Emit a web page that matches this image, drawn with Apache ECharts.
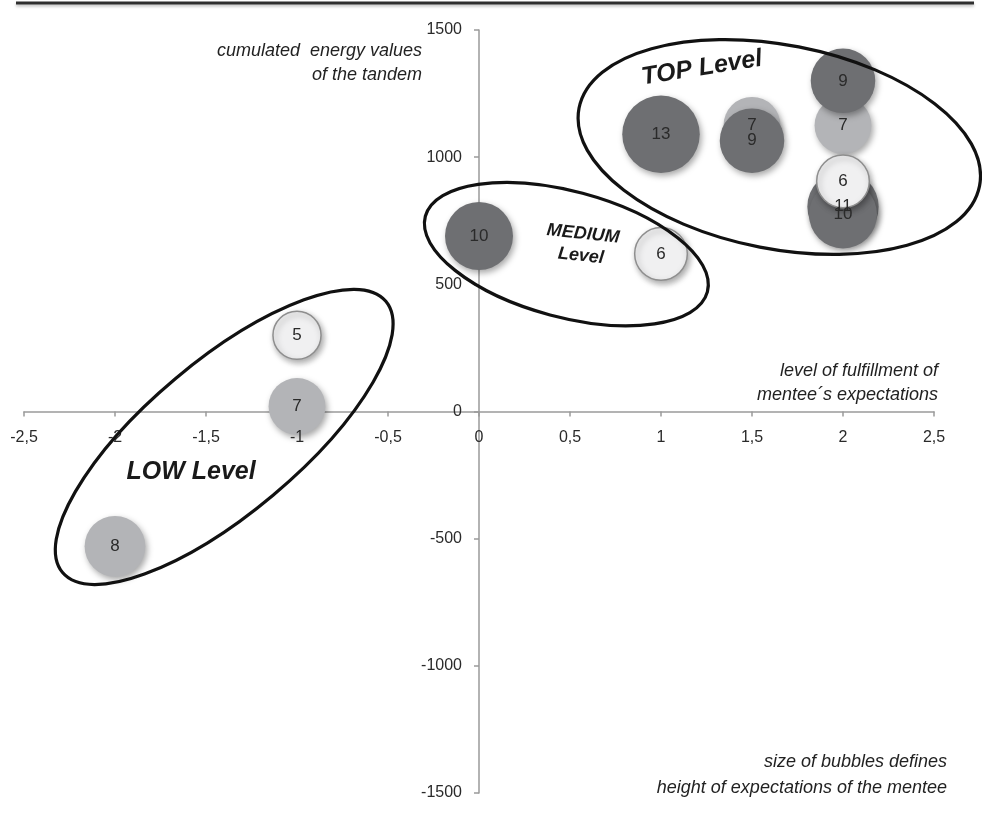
<!DOCTYPE html>
<html>
<head>
<meta charset="utf-8">
<title>mentoring tandems</title>
<script src="https://cdn.jsdelivr.net/npm/echarts@6/dist/echarts.min.js"></script>
<style>
  html, body { margin: 0; padding: 0; background: #fff; }
  #chart { width: 982px; height: 830px; }
</style>
</head>
<body>
<div id="chart"></div>
<script>
// [fulfillment of expectations, cumulated energy, height of expectations]
const mediumGrayBubbles = [[1.5, 1125, 7], [2, 1125, 7], [-1, 20, 7], [-2, -530, 8]]
const darkGrayBubbles = [[1, 1090, 13], [1.5, 1065, 9], [2, 1300, 9], [2, 805, 11], [2, 775, 10], [0, 690, 10]]
const lightBubbles = [[2, 905, 6], [1, 620, 6], [-1, 300, 5]]

const xTicks = [-2.5, -2, -1.5, -1, -0.5, 0, 0.5, 1, 1.5, 2, 2.5]
const yTicks = [-1500, -1000, -500, 0, 500, 1000, 1500]

// the hand drawn rings round each group (centre in data units)
const levelRings = [
    { name: 'TOP Level', center: [1.65, 1040], rx: 204, ry: 102, angle: -11 },
    { name: 'MEDIUM Level', center: [0.48, 619], rx: 146, ry: 63, angle: -15 },
    { name: 'LOW Level', center: [-1.40, -100], rx: 211, ry: 76, angle: 40 }
]
const levelTexts = [
    { text: 'TOP Level', at: [1.225, 1350], size: 25, angle: 9 },
    { text: 'MEDIUM\nLevel', at: [0.566, 655], size: 18, angle: -6 },
    { text: 'LOW Level', at: [-1.582, -238], size: 25, angle: 0 }
]

const FONT = '"Liberation Sans", Arial, Helvetica, sans-serif'
const bubbleSize = val => 21.5 * Math.sqrt(val[2])
const commaNum = v => String(v).replace('.', ',')

const axisGray = { color: '#9a9a9a', width: 1.5 }
const tickLabel = { fontSize: 16, color: '#2a2a2a', fontFamily: FONT }

function bubbleSeries(name, data, fill, border) {
    return {
        name,
        type: 'scatter',
        data,
        symbolSize: bubbleSize,
        itemStyle: {
            color: fill,
            borderColor: border || fill,
            borderWidth: border ? 1.5 : 0,
            opacity: 1,
            shadowBlur: 6,
            shadowOffsetX: 2,
            shadowOffsetY: 3,
            shadowColor: 'rgba(0,0,0,0.35)'
        },
        label: {
            show: true,
            position: 'inside',
            formatter: p => p.value[2],
            color: '#2a2a2a',
            fontSize: 17,
            fontFamily: FONT
        },
        emphasis: { disabled: true },
        animation: false
    }
}

// line+ticks axis crossing at zero, and a labels-only twin moved onto the zero line
function xAxes(offset) {
    const base = { type: 'value', min: xTicks[0], max: xTicks[xTicks.length - 1], interval: 0.5, splitLine: { show: false } }
    return [
        Object.assign({}, base, {
            axisLine: { onZero: true, onZeroAxisIndex: 0, lineStyle: axisGray },
            axisTick: { length: 5, lineStyle: axisGray },
            axisLabel: { show: false }
        }),
        Object.assign({}, base, {
            position: 'bottom', offset, z: 10,
            axisLine: { show: false, onZero: false },
            axisTick: { show: false },
            axisLabel: Object.assign({ margin: 18, formatter: commaNum }, tickLabel)
        })
    ]
}
function yAxes(offset) {
    const base = { type: 'value', min: yTicks[0], max: yTicks[yTicks.length - 1], interval: 500, splitLine: { show: false } }
    return [
        Object.assign({}, base, {
            axisLine: { onZero: true, onZeroAxisIndex: 0, lineStyle: axisGray },
            axisTick: { length: 5, lineStyle: axisGray },
            axisLabel: { show: false }
        }),
        Object.assign({}, base, {
            position: 'left', offset, z: 10,
            axisLine: { show: false, onZero: false },
            axisTick: { show: false },
            axisLabel: Object.assign({ margin: 17, formatter: v => String(v) }, tickLabel)
        })
    ]
}

const chart = echarts.init(document.getElementById('chart'))

chart.setOption({
    animation: false,
    grid: { left: 24, right: 48, top: 30, bottom: 37, containLabel: false, outerBoundsMode: 'none' },
    xAxis: xAxes(0),
    yAxis: yAxes(0),
    series: [
        bubbleSeries('medium', mediumGrayBubbles, '#b3b4b7'),
        bubbleSeries('dark', darkGrayBubbles, '#6e6f72'),
        bubbleSeries('light', lightBubbles, '#f0f0f1', '#8e8e8e')
    ]
})

// shift the label axes from the grid edges onto the zero lines
const origin = chart.convertToPixel({ gridIndex: 0 }, [0, 0])
const corner = chart.convertToPixel({ gridIndex: 0 }, [xTicks[0], yTicks[0]])
chart.setOption({
    xAxis: xAxes(origin[1] - corner[1]),
    yAxis: yAxes(corner[0] - origin[0])
})

// annotations: rings, level names, axis titles, the rule at the top
const graphics = []
levelRings.forEach(r => {
    const p = chart.convertToPixel({ gridIndex: 0 }, r.center)
    graphics.push({
        type: 'ellipse',
        x: p[0], y: p[1],
        rotation: r.angle * Math.PI / 180,
        shape: { cx: 0, cy: 0, rx: r.rx, ry: r.ry },
        style: { fill: null, stroke: '#111', lineWidth: 3.2 },
        z: 20,
        silent: true
    })
})
levelTexts.forEach(t => {
    const p = chart.convertToPixel({ gridIndex: 0 }, t.at)
    graphics.push({
        type: 'text',
        x: p[0], y: p[1],
        rotation: t.angle * Math.PI / 180,
        style: {
            text: t.text,
            font: 'italic bold ' + t.size + 'px ' + FONT,
            fill: '#1a1a1a',
            align: 'center', verticalAlign: 'middle',
            textAlign: 'center', textVerticalAlign: 'middle',
            lineHeight: t.size + 4
        },
        z: 21,
        silent: true
    })
})

const axisTitles = [
    { text: 'cumulated  energy values\nof the tandem', x: 422, y: 63, lh: 24 },
    { text: 'level of fulfillment of\nmentee\u00b4s expectations', x: 938, y: 383, lh: 24 },
    { text: 'size of bubbles defines\nheight of expectations of the mentee', x: 947, y: 775, lh: 26 }
]
axisTitles.forEach(t => {
    graphics.push({
        type: 'text',
        x: t.x, y: t.y,
        style: {
            text: t.text,
            font: 'italic 18px ' + FONT,
            fill: '#222',
            align: 'right', verticalAlign: 'middle',
            textAlign: 'right', textVerticalAlign: 'middle',
            lineHeight: t.lh
        },
        z: 21,
        silent: true
    })
})

graphics.push({
    type: 'line',
    shape: { x1: 16, y1: 3, x2: 974, y2: 3 },
    style: { stroke: '#2e2e2e', lineWidth: 3, shadowBlur: 3, shadowOffsetY: 2, shadowColor: 'rgba(0,0,0,0.25)' },
    z: 21,
    silent: true
})

chart.setOption({ graphic: graphics })
</script>
</body>
</html>
